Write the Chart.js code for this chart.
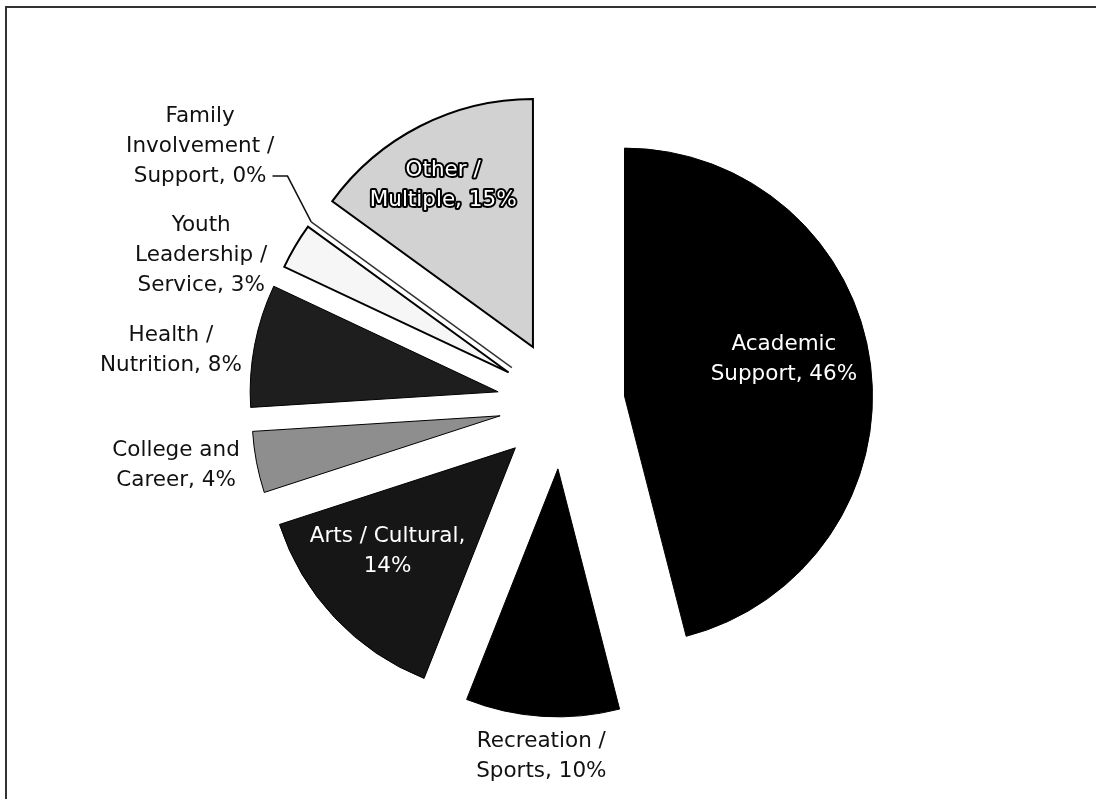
<!DOCTYPE html>
<html>
<head>
<meta charset="utf-8">
<script src="https://cdn.jsdelivr.net/npm/chart.js@4/dist/chart.umd.min.js"></script>
<style>
  html, body { margin: 0; padding: 0; background: #fff; overflow: hidden; }
  #wrap { position: relative; width: 1096px; height: 799px; }
  #frame { position: absolute; left: 5px; top: 6px; right: 0; bottom: 0; border-left: 2px solid #333; border-top: 2px solid #333; }
  canvas { position: absolute; left: 0; top: 0; }
</style>
</head>
<body>
<div id="wrap">
  <div id="frame"></div>
  <canvas id="pie"></canvas>
</div>
<script>
// Program focus areas, share of programs (%)
var categories = ['Academic Support', 'Recreation / Sports', 'Arts / Cultural', 'College and Career',
                  'Health / Nutrition', 'Youth Leadership / Service', 'Family Involvement / Support', 'Other / Multiple'];
var shares = [46, 10, 14, 4, 8, 3, 0, 15];

// look of each slice (scanned grayscale)
var fills = ['#000000', '#000000', '#161616', '#8e8e8e', '#1e1e1e', '#f6f6f6', '#ffffff', '#d2d2d2'];
var explode = [63, 65, 64, 63, 65, 62, 62, 64];
// words on each label line
var wordsPerLine = [[1, 2], [2, 2], [3, 1], [2, 2], [2, 2], [1, 2, 2], [1, 2, 2], [2, 2]];
// label position: radius factor from slice tip, angle shift (deg) from mid angle
var labelPlace = [[0.66, -5.9], [1.162, -0.3], [0.664, 4.1], [1.322, 2.1], [1.33, -3.6], [1.327, -9.7], [1.542, -0.6], [0.747, -2]];
var labelStyle = ['white', 'dark', 'white', 'dark', 'dark', 'dark', 'dark', 'outline'];

function labelLines(i) {
    var words = (categories[i] + ', ' + shares[i] + '%').split(' ');
    var lines = [], k = 0;
    wordsPerLine[i].forEach(function(n) {
        lines.push(words.slice(k, k + n).join(' '));
        k += n;
    });
    return lines;
}

// push each slice out from the centre along its mid angle
var explodePlugin = {
    id: 'explode',
    beforeDatasetsDraw: function(chart) {
        var a = chart.chartArea;
        var cx = (a.left + a.right) / 2, cy = (a.top + a.bottom) / 2;
        chart.getDatasetMeta(0).data.forEach(function(arc, i) {
            var mid = (arc.startAngle + arc.endAngle) / 2;
            arc.x = cx + Math.cos(mid) * explode[i];
            arc.y = cy + Math.sin(mid) * explode[i];
        });
    }
};

var labelPlugin = {
    id: 'sliceLabels',
    afterDatasetsDraw: function(chart) {
        var ctx = chart.ctx;
        var arcs = chart.getDatasetMeta(0).data;
        ctx.save();
        ctx.font = '21.5px "DejaVu Sans"';
        ctx.textAlign = 'center';
        ctx.textBaseline = 'middle';
        var lh = 30;
        arcs.forEach(function(arc, i) {
            var mid = (arc.startAngle + arc.endAngle) / 2;
            var R = arc.outerRadius;
            // zero slice is drawn as a single line
            if (arc.endAngle - arc.startAngle === 0) {
                ctx.strokeStyle = '#333';
                ctx.lineWidth = 1.5;
                ctx.beginPath();
                ctx.moveTo(arc.x, arc.y);
                ctx.lineTo(arc.x + Math.cos(mid) * R, arc.y + Math.sin(mid) * R);
                ctx.stroke();
            }
            var ang = mid + labelPlace[i][1] * Math.PI / 180;
            var px = arc.x + Math.cos(ang) * R * labelPlace[i][0];
            var py = arc.y + Math.sin(ang) * R * labelPlace[i][0];
            var lines = labelLines(i);
            var y0 = py - (lines.length - 1) * lh / 2;
            lines.forEach(function(t, j) {
                var y = y0 + j * lh;
                if (labelStyle[i] === 'outline') {
                    ctx.lineWidth = 4;
                    ctx.lineJoin = 'round';
                    ctx.strokeStyle = '#000';
                    ctx.strokeText(t, px, y);
                    ctx.fillStyle = '#fff';
                } else {
                    ctx.fillStyle = labelStyle[i] === 'white' ? '#fff' : '#111';
                }
                ctx.fillText(t, px, y);
            });
            // leader line for the zero slice
            if (shares[i] === 0) {
                var last = lines[lines.length - 1];
                var lx = px + ctx.measureText(last).width / 2 + 6;
                var ly = y0 + (lines.length - 1) * lh;
                ctx.strokeStyle = '#111';
                ctx.lineWidth = 1.5;
                ctx.beginPath();
                ctx.moveTo(lx, ly);
                ctx.lineTo(lx + 15, ly);
                ctx.lineTo(arc.x + Math.cos(mid) * R, arc.y + Math.sin(mid) * R);
                ctx.stroke();
            }
        });
        ctx.restore();
    }
};

var ctx = document.getElementById('pie').getContext('2d');
var pieChart = new Chart(ctx, {
    type: 'pie',
    data: {
        labels: categories,
        datasets: [{
            data: shares,
            backgroundColor: fills,
            borderColor: '#000',
            borderWidth: [1, 1, 1, 1, 1, 2, 0, 2],
            borderJoinStyle: 'miter'
        }]
    },
    options: {
        responsive: true,
        maintainAspectRatio: false,
        animation: false,
        radius: 248,
        layout: { padding: { left: 28, right: 0, top: 9, bottom: 0 } },
        plugins: {
            legend: { display: false },
            tooltip: { enabled: false }
        }
    },
    plugins: [explodePlugin, labelPlugin]
});
</script>
</body>
</html>
